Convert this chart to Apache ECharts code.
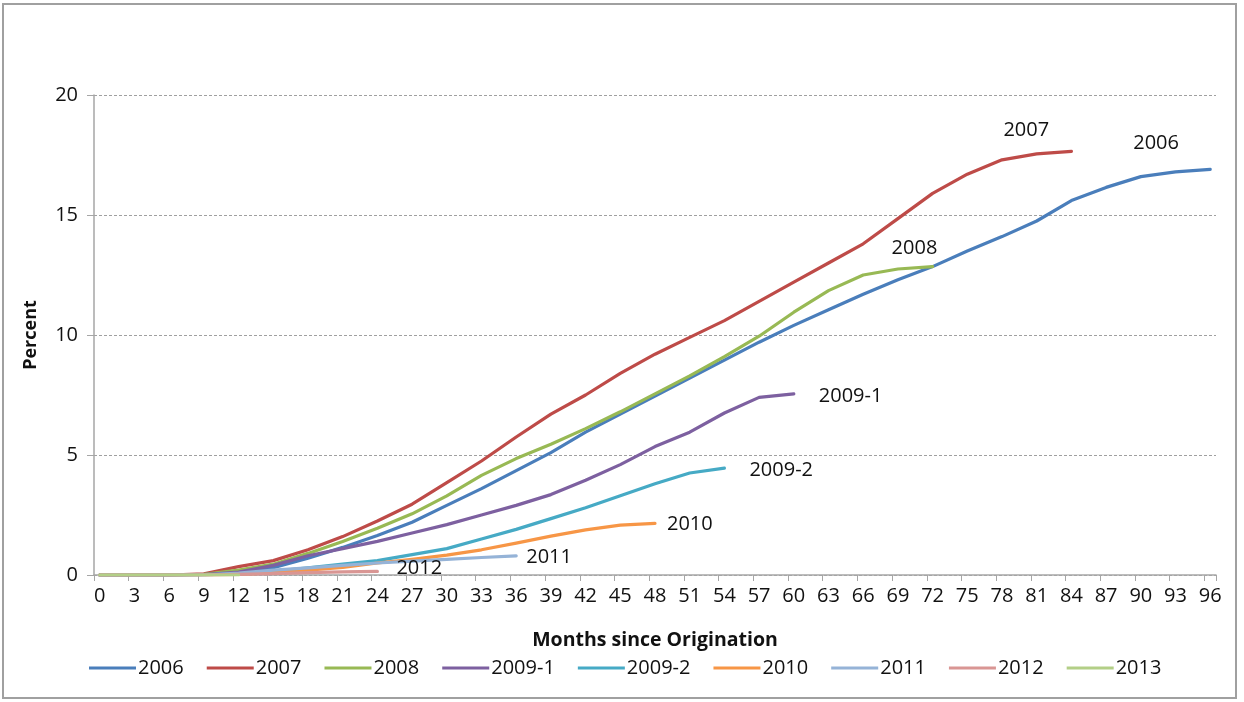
<!DOCTYPE html>
<html>
<head>
<meta charset="utf-8">
<script src="https://cdn.jsdelivr.net/npm/echarts@6/dist/echarts.min.js"></script>
<style>
html,body{margin:0;padding:0;background:#fff;}
#chart{width:1244px;height:702px;}
</style>
</head>
<body>
<div id="chart"></div>
<script>
// Months since origination (categories 0..96), ticks/labels every 3 months
const monthCategories = Array.from({length: 97}, (_, i) => String(i));
const sampleMonths = [0,3,6,9,12,15,18,21,24,27,30,33,36,39,42,45,48,51,54,57,60,63,66,69,72,75,78,81,84,87,90,93,96];
const yTicks = [0,5,10,15,20];

const seriesNames = ['2006','2007','2008','2009-1','2009-2','2010','2011','2012','2013'];

// values read at months 0,3,6,... (each series ends at its own last month)
const v2006  = [0,0,0,0.02,0.1,0.3,0.7,1.15,1.65,2.2,2.9,3.6,4.35,5.1,5.95,6.7,7.45,8.2,8.95,9.7,10.4,11.05,11.7,12.3,12.85,13.5,14.1,14.75,15.6,16.15,16.6,16.8,16.9];
const v2007  = [0,0,0,0.05,0.35,0.6,1.05,1.6,2.25,2.95,3.85,4.75,5.75,6.7,7.5,8.4,9.2,9.9,10.6,11.4,12.2,13.0,13.8,14.85,15.9,16.7,17.3,17.55,17.65];
const v2008  = [0,0,0,0.03,0.2,0.45,0.9,1.4,1.95,2.55,3.3,4.15,4.85,5.45,6.1,6.8,7.55,8.3,9.1,9.95,10.95,11.85,12.5,12.75,12.85];
const v2009a = [0,0,0,0.02,0.12,0.4,0.8,1.1,1.4,1.75,2.1,2.5,2.9,3.35,3.95,4.6,5.35,5.95,6.75,7.4,7.55];
const v2009b = [0,0,0,0.01,0.05,0.15,0.3,0.45,0.6,0.85,1.1,1.5,1.9,2.35,2.8,3.3,3.8,4.25,4.45];
const v2010  = [0,0,0,0,0.03,0.1,0.2,0.32,0.5,0.65,0.83,1.05,1.33,1.62,1.88,2.08,2.15];
const v2011  = [0,0,0,0,0.08,0.2,0.3,0.4,0.5,0.58,0.65,0.73,0.8];
const v2012  = [0,0,0,0,0.03,0.06,0.1,0.13,0.15];
const v2013  = [0,0,0,0,0];

const seriesValues = [v2006, v2007, v2008, v2009a, v2009b, v2010, v2011, v2012, v2013];
const seriesColors = ['#4A7EBB','#BE4B48','#98B954','#7D60A0','#46AAC5','#F79646','#95B3D7','#D99694','#B3CF87'];
const labelOffsets = [[-85,-26],[-76,-21],[-49,-18],[17,2],[17,2],[4,1],[2,1],[11,-3],null];

const FONT = 'Open Sans, Noto Sans, sans-serif';
const TXT = '#111';

const chart = echarts.init(document.getElementById('chart'), null, {renderer: 'canvas'});

const series = seriesNames.map((name, i) => ({
  name: name,
  type: 'line',
  showSymbol: false,
  symbol: 'none',
  smooth: false,
  color: seriesColors[i],
  lineStyle: {width: 3.2, color: seriesColors[i], join: 'round', cap: 'round'},
  data: seriesValues[i].map((v, k) => [sampleMonths[k], v]),
  endLabel: labelOffsets[i] ? {
    show: true,
    formatter: '{a}',
    offset: labelOffsets[i],
    color: TXT,
    fontSize: 20,
    fontFamily: FONT
  } : {show: false},
  emphasis: {disabled: true},
  animation: false
}));

chart.setOption({
  backgroundColor: '#fff',
  animation: false,
  graphic: [{
    type: 'rect',
    shape: {x: 3, y: 4, width: 1233, height: 694},
    style: {fill: 'none', stroke: '#a0a0a0', lineWidth: 2},
    silent: true
  }],
  grid: {left: 94, right: 28, top: 95, bottom: 127},
  legend: {
    data: seriesNames,
    left: 89,
    top: 658,
    padding: 0,
    icon: 'rect',
    itemWidth: 47,
    itemHeight: 3,
    itemGap: 23,
    textStyle: {fontSize: 20, color: TXT, fontFamily: FONT, padding: [0,0,0,-3]}
  },
  xAxis: {
    type: 'category',
    data: monthCategories,
    boundaryGap: true,
    name: 'Months since Origination',
    nameLocation: 'middle',
    nameGap: 55,
    nameTextStyle: {fontSize: 19.5, fontWeight: 'bold', color: TXT, fontFamily: FONT},
    axisLine: {lineStyle: {color: '#a6a6a6', width: 1.5}},
    axisTick: {show: true, interval: 2, length: 6, lineStyle: {color: '#a6a6a6'}},
    axisLabel: {interval: 2, fontSize: 20, color: TXT, margin: 11, fontFamily: FONT},
    splitLine: {show: false}
  },
  yAxis: {
    type: 'value',
    min: yTicks[0],
    max: yTicks[yTicks.length - 1],
    interval: 5,
    name: 'Percent',
    nameLocation: 'middle',
    nameRotate: 90,
    nameGap: 54,
    nameTextStyle: {fontSize: 18, fontWeight: 'bold', color: TXT, fontFamily: FONT},
    axisLine: {show: true, lineStyle: {color: '#a6a6a6', width: 1.5}},
    axisTick: {show: true, length: 7, lineStyle: {color: '#a6a6a6'}},
    axisLabel: {fontSize: 20, color: TXT, margin: 16, fontFamily: FONT},
    splitLine: {show: true, lineStyle: {type: [3, 2], color: '#a0a0a0', width: 1}}
  },
  series: series
});
</script>
</body>
</html>
